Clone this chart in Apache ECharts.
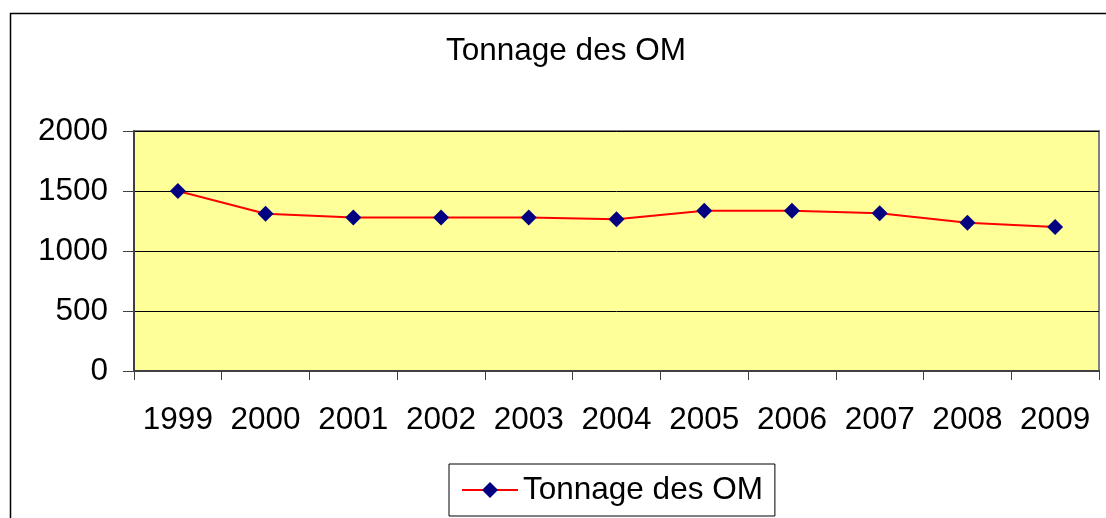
<!DOCTYPE html>
<html>
<head>
<meta charset="utf-8">
<script src="https://cdn.jsdelivr.net/npm/echarts@6/dist/echarts.min.js"></script>
<style>html,body{margin:0;padding:0;background:#fff}#c{width:1106px;height:518px}</style>
</head>
<body>
<div id="c"></div>
<script>
var years = ['1999','2000','2001','2002','2003','2004','2005','2006','2007','2008','2009'];
var tonnage = [1500, 1310, 1280, 1280, 1280, 1265, 1335, 1335, 1315, 1235, 1200];
var yTicks = [0, 500, 1000, 1500, 2000];
var seriesName = 'Tonnage des OM';
var chartTitle = 'Tonnage des OM';

var FONT = "'Liberation Sans', Arial, sans-serif";
var chart = echarts.init(document.getElementById('c'));
chart.setOption({
  animation: false,
  backgroundColor: '#fff',
  title: {
    text: chartTitle, left: 441, top: 30,
    textStyle: {fontFamily: FONT, fontSize: 31.5, fontWeight: 'normal', color: '#000'}
  },
  graphic: [{
    type: 'rect', z: -1, silent: true,
    shape: {x: 10.5, y: 13.5, width: 1200, height: 600},
    style: {fill: 'none', stroke: '#000', lineWidth: 1.5}
  }],
  grid: {
    left: 134, top: 131, right: 7, bottom: 147,
    show: true, backgroundColor: '#FFFF99', borderColor: '#808080', borderWidth: 2
  },
  legend: {
    left: 449, top: 464,
    padding: [10, 12, 10, 12],
    borderColor: '#000', borderWidth: 1,
    itemWidth: 56, itemHeight: 20, itemGap: 9,
    textStyle: {fontFamily: FONT, fontSize: 31.5, color: '#000'},
    data: [seriesName]
  },
  xAxis: {
    type: 'category', data: years, boundaryGap: true,
    axisLine: {lineStyle: {color: '#404040', width: 2}},
    axisTick: {show: true, length: 9, lineStyle: {color: '#404040', width: 1}},
    axisLabel: {fontFamily: FONT, fontSize: 31.5, color: '#000', margin: 33, interval: 0}
  },
  yAxis: {
    type: 'value', min: yTicks[0], max: yTicks[yTicks.length - 1], interval: 500,
    axisLine: {show: true, lineStyle: {color: '#404040', width: 2}},
    axisTick: {show: true, length: 11, lineStyle: {color: '#404040', width: 1}},
    axisLabel: {fontFamily: FONT, fontSize: 31.5, color: '#000', margin: 26,
      formatter: function (v) { return String(v); }},
    splitLine: {show: true, lineStyle: {color: '#000', width: 1}}
  },
  series: [{
    name: seriesName, type: 'line', data: tonnage,
    symbol: 'diamond', symbolSize: 16,
    lineStyle: {color: '#FF0000', width: 2},
    itemStyle: {color: '#000080'}
  }]
});
</script>
</body>
</html>
